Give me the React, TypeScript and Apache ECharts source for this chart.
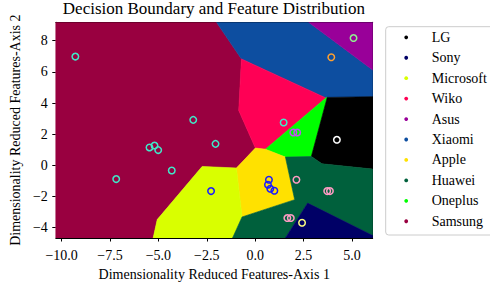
import React, { useEffect, useRef } from "react";
import * as echarts from "echarts";

const TITLE = "Decision Boundary and Feature Distribution";
const X_NAME = "Dimensionality Reduced Features-Axis 1";
const Y_NAME = "Dimensionality Reduced Features-Axis 2";

const X_MIN = -10.3;
const X_MAX = 6.07;
const Y_MIN = -4.66;
const Y_MAX = 9.18;
const xTicks = [-10, -7.5, -5, -2.5, 0, 2.5, 5];
const yTicks = [-4, -2, 0, 2, 4, 6, 8];

const classes = ["LG", "Sony", "Microsoft", "Wiko", "Asus", "Xiaomi", "Apple", "Huawei", "Oneplus", "Samsung"];
const classColors = ["#000000", "#000066", "#d9ff00", "#ff0055", "#990099", "#0d4ea0", "#ffe100", "#00603c", "#00ff00", "#990040"];

// decision regions (polygon vertices in data space), class name per region
const regionClass = ["Samsung", "Xiaomi", "Asus", "Wiko", "Oneplus", "LG", "Apple", "Microsoft", "Huawei", "Sony"];
const regionPolys: number[][][] = [
  [[X_MIN, Y_MAX], [-2.0, Y_MAX], [-0.71, 6.83], [-0.85, 3.52], [0.01, 1.11], [-0.97, -0.17], [-2.74, -0.07], [-5.06, -3.48], [-5.27, Y_MIN], [X_MIN, Y_MIN]],
  [[-2.0, Y_MAX], [2.76, Y_MAX], [X_MAX, 6.12], [X_MAX, 4.41], [3.72, 4.36], [3.65, 4.33], [-0.71, 6.83]],
  [[2.76, Y_MAX], [X_MAX, Y_MAX], [X_MAX, 6.12]],
  [[-0.71, 6.83], [3.65, 4.33], [0.53, 1.04], [0.01, 1.11], [-0.85, 3.52]],
  [[3.65, 4.33], [3.72, 4.36], [2.9, 0.57], [1.56, 0.53], [0.53, 1.04]],
  [[3.72, 4.36], [X_MAX, 4.41], [X_MAX, -0.24], [3.45, 0.1], [2.9, 0.57]],
  [[0.01, 1.11], [0.53, 1.04], [1.56, 0.53], [2.04, -2.2], [-0.68, -3.31], [-0.97, -0.17]],
  [[-2.74, -0.07], [-0.97, -0.17], [-0.68, -3.31], [-1.17, Y_MIN], [-5.27, Y_MIN], [-5.06, -3.48]],
  [[-0.68, -3.31], [2.04, -2.2], [1.56, 0.53], [2.9, 0.57], [3.45, 0.1], [X_MAX, -0.24], [X_MAX, -4.5], [2.71, -2.42], [1.56, Y_MIN], [-1.17, Y_MIN]],
  [[1.56, Y_MIN], [2.71, -2.42], [X_MAX, -4.5], [X_MAX, Y_MIN]],
];

// feature points, grouped by edge colour
const ptsTurquoise = [[-9.29, 6.98], [-3.2, 2.92], [1.47, 2.75], [-5.46, 1.15], [-5.2, 1.27], [-5.01, 0.98], [-2.05, 1.38], [-4.31, -0.33], [-7.18, -0.88]];
const ptsViolet = [[1.97, 2.11], [2.17, 2.11]];
const ptsOrange = [[3.93, 6.94]];
const ptsLightGreen = [[5.08, 8.17]];
const ptsWhite = [[4.22, 1.64]];
const ptsBlue = [[-2.28, -1.65], [0.71, -0.92], [0.66, -1.24], [0.78, -1.5], [0.99, -1.63]];
const ptsPink = [[2.13, -0.92], [3.72, -1.65], [3.86, -1.65], [1.66, -3.38], [1.84, -3.38]];
const ptsYellow = [[2.42, -3.68]];

const pointGroups = [
  { data: ptsTurquoise, color: "#40e8c8" },
  { data: ptsViolet, color: "#c050f0" },
  { data: ptsOrange, color: "#ffa030" },
  { data: ptsLightGreen, color: "#90f090" },
  { data: ptsWhite, color: "#ffffff" },
  { data: ptsBlue, color: "#1a1aff" },
  { data: ptsPink, color: "#ff9cc4" },
  { data: ptsYellow, color: "#ffff80" },
];

const FONT = '"Liberation Serif", "DejaVu Serif", serif';
const minus = (s: string) => s.replace("-", "\u2212");

export default function App() {
  const ref = useRef<HTMLDivElement>(null);
  useEffect(() => {
    if (!ref.current) return;
    const chart = echarts.init(ref.current, null, { renderer: "svg" });
    const GRID = { left: 55, right: 490 - 372.7, top: 22.3, bottom: 286 - 238.3 };
    const LEG_X = 385.7;
    const LEG_Y = 26.7;
    const ROW0 = 37.3;
    const ROW_GAP = 20.44;
    const legendGraphics: any[] = [
      {
        type: "rect",
        shape: { x: LEG_X, y: LEG_Y, width: 112, height: 208.3, r: 3 },
        style: { fill: "#ffffff", stroke: "#cccccc", lineWidth: 1 },
        z: 10,
      },
    ];
    classes.forEach((c, i) => {
      const cy = ROW0 + i * ROW_GAP;
      legendGraphics.push({
        type: "circle",
        shape: { cx: 406.2, cy, r: 1.9 },
        style: { fill: classColors[i] },
        z: 11,
      });
      legendGraphics.push({
        type: "text",
        x: 431.7,
        y: cy,
        style: {
          text: c,
          fill: "#000",
          font: `14px ${FONT}`,
          textVerticalAlign: "middle",
          verticalAlign: "middle",
          align: "left",
        },
        z: 11,
      });
    });
    const option: any = {
      animation: false,
      backgroundColor: "#ffffff",
      textStyle: { fontFamily: FONT },
      title: {
        text: TITLE,
        left: 213.9,
        top: 0,
        padding: 0,
        textAlign: "center",
        textStyle: { fontFamily: FONT, fontSize: 17, fontWeight: "normal", color: "#000" },
      },
      graphic: legendGraphics,
      grid: { ...GRID, containLabel: false },
      xAxis: [
        {
          type: "value",
          min: X_MIN,
          max: X_MAX,
          name: X_NAME,
          nameLocation: "middle",
          nameGap: 29,
          nameTextStyle: { fontFamily: FONT, fontSize: 14, color: "#000" },
          axisLine: { show: true, onZero: false, lineStyle: { color: "#000", width: 1 } },
          axisTick: { show: true, inside: false, length: 3.5, customValues: xTicks, lineStyle: { color: "#000" } },
          axisLabel: {
            customValues: xTicks,
            margin: 10,
            fontFamily: FONT,
            fontSize: 14,
            color: "#000",
            formatter: (v: number) => minus(v.toFixed(1)),
          },
          splitLine: { show: false },
        },
        {
          type: "value",
          position: "top",
          min: X_MIN,
          max: X_MAX,
          axisLine: { show: true, onZero: false, lineStyle: { color: "#000", width: 1 } },
          axisTick: { show: false },
          axisLabel: { show: false },
          splitLine: { show: false },
        },
      ],
      yAxis: [
        {
          type: "value",
          min: Y_MIN,
          max: Y_MAX,
          name: Y_NAME,
          nameLocation: "middle",
          nameGap: 31,
          nameRotate: 90,
          nameTextStyle: { fontFamily: FONT, fontSize: 14, color: "#000" },
          axisLine: { show: true, onZero: false, lineStyle: { color: "#000", width: 1 } },
          axisTick: { show: true, inside: false, length: 3.5, customValues: yTicks, lineStyle: { color: "#000" } },
          axisLabel: {
            customValues: yTicks,
            margin: 8,
            fontFamily: FONT,
            fontSize: 14,
            color: "#000",
            formatter: (v: number) => minus(String(v)),
          },
          splitLine: { show: false },
        },
        {
          type: "value",
          position: "right",
          min: Y_MIN,
          max: Y_MAX,
          axisLine: { show: true, onZero: false, lineStyle: { color: "#000", width: 1 } },
          axisTick: { show: false },
          axisLabel: { show: false },
          splitLine: { show: false },
        },
      ],
      series: [
        {
          type: "custom",
          name: "regions",
          clip: true,
          silent: true,
          z: 1,
          data: regionPolys.map((poly, i) => [poly[0][0], poly[0][1], i]),
          encode: { x: 0, y: 1 },
          renderItem: (params: any, api: any) => {
            const i = params.dataIndex;
            const pts = regionPolys[i].map((p) => api.coord(p));
            const col = classColors[classes.indexOf(regionClass[i])];
            return {
              type: "polygon",
              shape: { points: pts },
              style: { fill: col, stroke: col, lineWidth: 0.6 },
            };
          },
        },
        ...pointGroups.map((g) => ({
          type: "scatter",
          name: "pts_" + g.color,
          data: g.data,
          symbol: "circle",
          symbolSize: 6.5,
          z: 5,
          itemStyle: { color: "rgba(0,0,0,0)", borderColor: g.color, borderWidth: 1.5, opacity: 1 },
          silent: true,
        })),
      ],
    };
    chart.setOption(option);
    return () => chart.dispose();
  }, []);
  return <div ref={ref} style={{ width: 490, height: 286, position: "absolute", left: 0, top: 0 }} />;
}
